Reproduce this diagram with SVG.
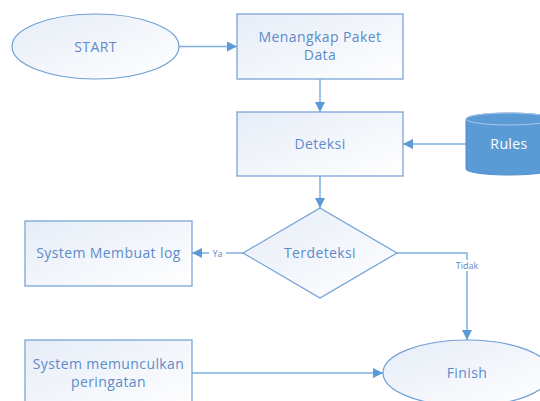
<svg xmlns="http://www.w3.org/2000/svg" width="540" height="401" viewBox="0 0 540 401">
<defs>
<linearGradient id="g" x1="0" y1="0" x2="1" y2="1">
<stop offset="0" stop-color="#e6ecf7"/>
<stop offset="1" stop-color="#ffffff"/>
</linearGradient>
<marker id="ah" viewBox="0 0 10 10" refX="10" refY="5" markerWidth="10" markerHeight="10" markerUnits="userSpaceOnUse" orient="auto">
<path d="M0,0 L10,5 L0,10 Z" fill="#5b9bd5"/>
</marker>
<style>
.s{fill:url(#g);stroke:#6f9fd6;stroke-width:1.2}
.t{font-family:"Open Sans","Liberation Sans",sans-serif;font-size:14px;fill:#5b8ccb;text-anchor:middle;letter-spacing:0.4px}
.c{fill:none;stroke:#7eaee0;stroke-width:1.5}
.l{font-family:"Open Sans","Liberation Sans",sans-serif;font-size:9px;fill:#5b8ccb;text-anchor:middle}
</style>
</defs>
<rect width="540" height="401" fill="#ffffff"/>
<g id="connectors">
<path class="c" d="M179,46.5 L237,46.5" marker-end="url(#ah)"/>
<path class="c" d="M320,79 L320,112" marker-end="url(#ah)"/>
<path class="c" d="M466,144 L403,144" marker-end="url(#ah)"/>
<path class="c" d="M320,176 L320,208" marker-end="url(#ah)"/>
<path class="c" d="M243,253 L192,253" marker-end="url(#ah)"/>
<rect x="209" y="248" width="17" height="11" fill="#fff"/>
<text class="l" x="217.5" y="256.5">Ya</text>
<path class="c" d="M397,253 L467,253 L467,340" marker-end="url(#ah)"/>
<rect x="453" y="260" width="28" height="11" fill="#fff"/>
<text class="l" x="467" y="269">Tidak</text>
<path class="c" d="M192,373 L383,373" marker-end="url(#ah)"/>
</g>
<g id="start">
<ellipse class="s" cx="95.5" cy="46.5" rx="83.5" ry="32.5"/>
<text class="t" x="95.5" y="51.5">START</text>
</g>
<g id="menangkap">
<rect class="s" x="237" y="14" width="166" height="65"/>
<text class="t" x="320" y="42">Menangkap Paket</text>
<text class="t" x="320" y="60">Data</text>
</g>
<g id="deteksi">
<rect class="s" x="237" y="112" width="166" height="64"/>
<text class="t" x="320" y="149">Deteksi</text>
</g>
<g id="rules">
<path d="M466,119 L466,169 A43,6 0 0 0 552,169 L552,119 A43,6 0 0 0 466,119 Z" fill="#5b9bd5" stroke="#4f8cc9" stroke-width="1"/>
<ellipse cx="509" cy="119" rx="43" ry="6" fill="#5b9bd5" stroke="#a9c8ea" stroke-width="1"/>
<text class="t" x="509" y="149" style="fill:#ffffff">Rules</text>
</g>
<g id="terdeteksi">
<path class="s" d="M320,208 L397,253 L320,298 L243,253 Z"/>
<text class="t" x="320" y="258">Terdeteksi</text>
</g>
<g id="log">
<rect class="s" x="25" y="221" width="167" height="65"/>
<text class="t" x="108.5" y="258">System Membuat log</text>
</g>
<g id="peringatan">
<rect class="s" x="25" y="340" width="167" height="70"/>
<text class="t" x="108.5" y="369">System memunculkan</text>
<text class="t" x="108.5" y="387">peringatan</text>
</g>
<g id="finish">
<ellipse class="s" cx="467" cy="373" rx="84" ry="33"/>
<text class="t" x="467" y="378">Finish</text>
</g>
</svg>
